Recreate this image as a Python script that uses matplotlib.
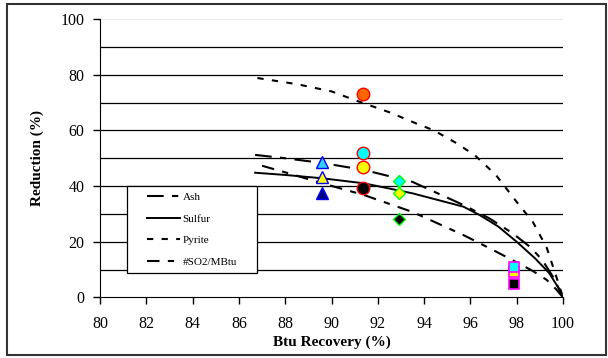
import matplotlib.pyplot as plt
from matplotlib.patches import Rectangle

# Kurven (Btu Recovery %, Reduction %)
pyrite_x = [86.8, 88.5, 90.0, 91.0, 92.5, 93.8, 94.4, 95.4, 96.2, 97.1, 98.0, 98.7, 99.3, 99.8, 100.0]
pyrite_y = [78.8, 76.6, 74.0, 70.9, 66.5, 62.0, 60.1, 55.4, 51.0, 44.0, 34.3, 27.1, 17.8, 5.2, 0.0]

ash_x = [86.7, 88.0, 89.6, 91.4, 93.5, 95.7, 96.8, 97.8, 98.6, 99.1, 99.6, 100.0]
ash_y = [51.2, 50.0, 48.3, 45.8, 41.5, 33.2, 28.5, 23.2, 18.0, 13.5, 7.0, 0.0]

sulfur_x = [86.7, 88.0, 89.6, 91.4, 93.5, 95.7, 96.4, 97.2, 98.0, 98.8, 99.4, 99.8, 100.0]
sulfur_y = [44.8, 44.0, 42.8, 41.0, 37.4, 32.6, 29.6, 25.5, 20.0, 14.0, 8.8, 3.5, 0.0]

so2_x = [87.0, 88.1, 89.6, 91.4, 93.5, 95.7, 96.8, 97.8, 98.7, 99.3, 99.7, 100.0]
so2_y = [47.3, 44.7, 41.0, 36.8, 30.7, 22.4, 17.8, 13.5, 9.5, 6.3, 3.0, 0.0]

# Messpunkte
tri_x = [89.6, 89.6, 89.6]
tri_y = [48.8, 43.4, 37.4]
circ_x = [91.35, 91.35, 91.35, 91.35]
circ_y = [73.1, 52.0, 47.0, 39.4]
dia_x = [92.9, 92.9, 92.9]
dia_y = [41.8, 37.4, 28.2]
sq_x = [97.9, 97.9, 97.9]
sq_y = [9.1, 11.0, 4.7]

tri_colors = ["#33CCFF", "#FFFF00", "#000080"]
circ_colors = ["#FF6600", "#00FFFF", "#FFFF00", "#000000"]
dia_colors = ["#00FFFF", "#FFFF00", "#000000"]
sq_colors = ["#FFFF00", "#00FFFF", "#000000"]

plt.rcParams["font.family"] = ["Liberation Serif", "DejaVu Serif"]

fig = plt.figure(figsize=(6.08, 3.58), dpi=100)
ax = fig.add_axes([0.1645, 0.169, 0.7615, 0.778])

# Rahmen um die ganze Abbildung
fig.patches.append(Rectangle((0.012, 0.008), 0.985, 0.982, transform=fig.transFigure,
                             fill=False, edgecolor="#333333", linewidth=1.5))

for yv in range(10, 100, 10):
    ax.axhline(yv, color="black", linewidth=0.9, zorder=1)
ax.axhline(100, color="#e8e8e8", linewidth=1.2, zorder=1)

ax.plot(ash_x, ash_y, color="black", linewidth=1.5, dashes=(8, 4, 3, 4), label="Ash", zorder=2)
ax.plot(sulfur_x, sulfur_y, color="black", linewidth=1.4, label="Sulfur", zorder=2)
ax.plot(pyrite_x, pyrite_y, color="black", linewidth=1.5, dashes=(3, 4), label="Pyrite", zorder=2)
ax.plot(so2_x, so2_y, color="black", linewidth=1.5, dashes=(6, 4, 3, 4), label="#SO2/MBtu", zorder=2)

for x, y, c in zip(tri_x, tri_y, tri_colors):
    ax.plot(x, y, marker="^", markersize=9, markerfacecolor=c, markeredgecolor="#0000FF",
            markeredgewidth=1, linestyle="none", zorder=3)
for x, y, c in zip(circ_x, circ_y, circ_colors):
    ax.plot(x, y, marker="o", markersize=9, markerfacecolor=c, markeredgecolor="#FF0000",
            markeredgewidth=1, linestyle="none", zorder=3)
for x, y, c in zip(dia_x, dia_y, dia_colors):
    ax.plot(x, y, marker="D", markersize=6.5, markerfacecolor=c, markeredgecolor="#00FF00",
            markeredgewidth=1, linestyle="none", zorder=3)
for x, y, c in zip(sq_x, sq_y, sq_colors):
    ax.plot(x, y, marker="s", markersize=7.5, markerfacecolor=c, markeredgecolor="#FF00FF",
            markeredgewidth=1.2, linestyle="none", zorder=3)

ax.set_xlim(80, 100)
ax.set_ylim(0, 100)
ax.set_xticks(range(80, 101, 2))
ax.set_yticks(range(0, 101, 20))
ax.tick_params(direction="out", length=5, width=1, labelsize=11.5, colors="black")
ax.tick_params(axis="x", pad=8)
ax.tick_params(axis="y", pad=6)
ax.spines["top"].set_visible(False)
ax.spines["right"].set_visible(False)
ax.set_xlabel("Btu Recovery (%)", fontsize=11, fontweight="bold", labelpad=3)
ax.set_ylabel("Reduction (%)", fontsize=11, fontweight="bold", labelpad=12)

# Legendenrahmen separat, damit die Polsterung passt
ax.add_patch(Rectangle((0.058, 0.088), 0.281, 0.312, transform=ax.transAxes,
                       facecolor="white", edgecolor="black", linewidth=0.9, zorder=4))
leg = ax.legend(loc="upper left", bbox_to_anchor=(0.1015, 0.377), fontsize=8, frameon=False,
                handlelength=3.0, handletextpad=0.2, labelspacing=1.05, borderpad=0,
                borderaxespad=0)
leg.set_zorder(5)

fig.savefig("out.png", dpi=100)
